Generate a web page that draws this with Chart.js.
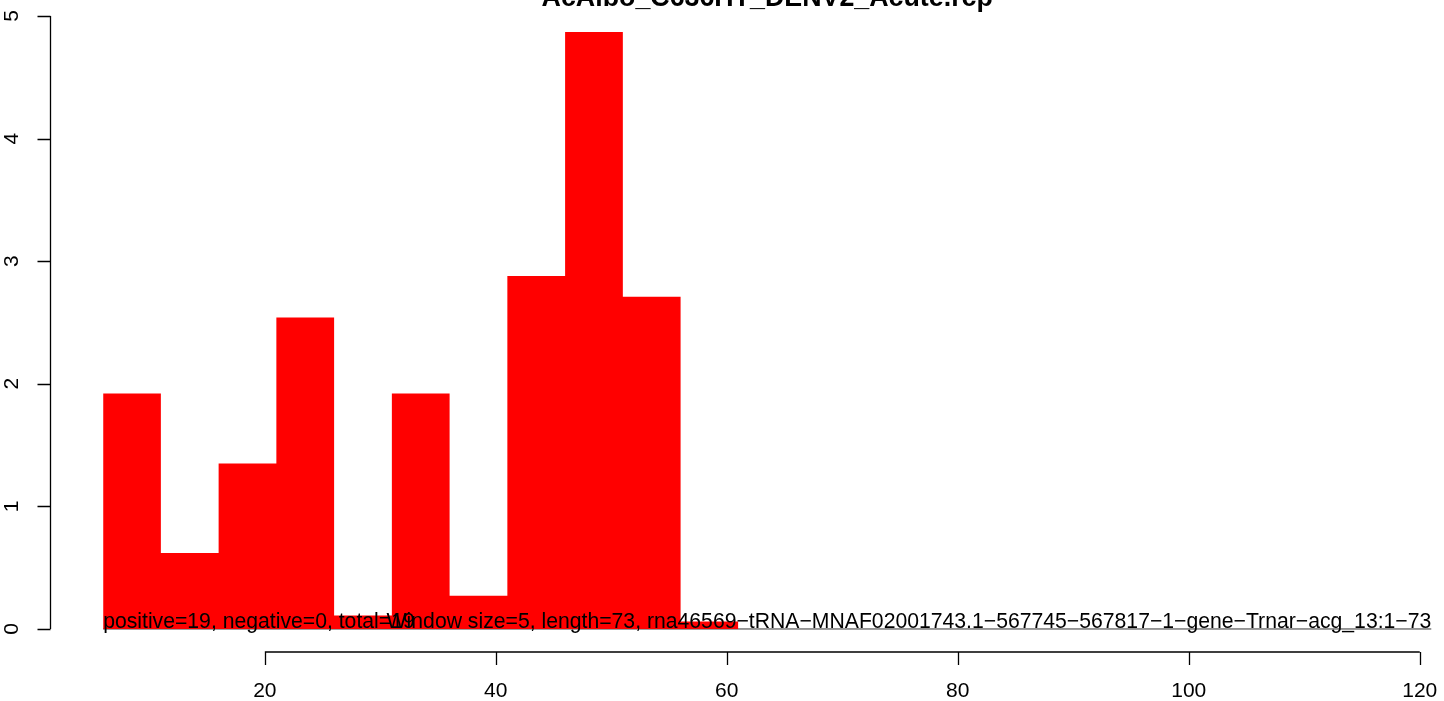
<!DOCTYPE html>
<html>
<head>
<meta charset="utf-8">
<script src="https://cdn.jsdelivr.net/npm/chart.js@4/dist/chart.umd.min.js"></script>
<style>
html,body{margin:0;padding:0;background:#fff;}
#c{display:block;}
</style>
</head>
<body>
<canvas id="c" width="1444" height="701"></canvas>
<script>
// ---- data ----
const chartTitle = "AcAlbo_C636HT_DENV2_Acute.rcp";
const binStarts = [6, 11, 16, 21, 26, 31, 36, 41, 46, 51, 56];
const binWidth = 5;
const binValues = [1.92, 0.62, 1.35, 2.54, 0.11, 1.92, 0.27, 2.88, 4.87, 2.71, 0.06];
const windowRange = [6, 121];
const xTickValues = [20, 40, 60, 80, 100, 120];
const yTickValues = [0, 1, 2, 3, 4, 5];
const noteLeft = "positive=19, negative=0, total=19";
const noteRight = "Window size=5, length=73, rna46569\u2212tRNA\u2212MNAF02001743.1\u2212567745\u2212567817\u22121\u2212gene\u2212Trnar\u2212acg_13:1\u221273";

// stepped histogram outline built from the bins
const histPoints = binStarts.map((s, i) => ({x: s, y: binValues[i]}));
histPoints.push({x: binStarts[binStarts.length - 1] + binWidth, y: binValues[binValues.length - 1]});

const FONT = '"Liberation Sans", Arial, sans-serif';

const rAxes = {
  id: 'rAxes',
  afterDraw(chart) {
    const ctx = chart.ctx;
    const xs = chart.scales.x, ys = chart.scales.y;
    const area = chart.chartArea;
    ctx.save();
    ctx.strokeStyle = '#000';
    ctx.fillStyle = '#000';
    ctx.lineWidth = 1.3;
    // x axis
    const xy = area.bottom - 1;
    ctx.beginPath();
    ctx.moveTo(xs.getPixelForValue(xTickValues[0]), xy);
    ctx.lineTo(xs.getPixelForValue(xTickValues[xTickValues.length - 1]), xy);
    xTickValues.forEach(v => {
      const px = Math.round(xs.getPixelForValue(v)) + 0.5;
      ctx.moveTo(px, xy);
      ctx.lineTo(px, xy + 13);
    });
    ctx.stroke();
    ctx.font = '21px ' + FONT;
    ctx.textAlign = 'center';
    ctx.textBaseline = 'alphabetic';
    xTickValues.forEach(v => {
      ctx.fillText(String(v), xs.getPixelForValue(v), 697);
    });
    // y axis
    const yx = area.left + 0.5;
    ctx.beginPath();
    ctx.moveTo(yx, ys.getPixelForValue(yTickValues[0]));
    ctx.lineTo(yx, ys.getPixelForValue(yTickValues[yTickValues.length - 1]));
    yTickValues.forEach(v => {
      const py = Math.round(ys.getPixelForValue(v)) + 0.5;
      ctx.moveTo(yx, py);
      ctx.lineTo(yx - 13, py);
    });
    ctx.stroke();
    yTickValues.forEach(v => {
      ctx.save();
      ctx.translate(18, ys.getPixelForValue(v));
      ctx.rotate(-Math.PI / 2);
      ctx.textAlign = 'center';
      ctx.textBaseline = 'alphabetic';
      ctx.fillText(String(v), 0, 0);
      ctx.restore();
    });
    // notes
    const y0 = ys.getPixelForValue(0) - 1;
    ctx.font = '21.2px ' + FONT;
    ctx.textAlign = 'left';
    ctx.fillText(noteLeft, xs.getPixelForValue(windowRange[0]), y0);
    ctx.textAlign = 'right';
    ctx.fillText(noteRight, xs.getPixelForValue(windowRange[1]), y0);
    // title
    ctx.font = 'bold 26.8px ' + FONT;
    ctx.textAlign = 'center';
    ctx.fillText(chartTitle, xs.getPixelForValue((windowRange[0] + windowRange[1]) / 2), 6);
    ctx.restore();
  }
};

new Chart(document.getElementById('c'), {
  type: 'line',
  data: {
    datasets: [
      {
        label: 'hist',
        data: histPoints,
        stepped: 'before',
        fill: 'origin',
        backgroundColor: '#FF0000',
        borderColor: 'rgba(0,0,0,0)',
        borderWidth: 0,
        pointRadius: 0,
        order: 1
      },
      {
        label: 'zero',
        data: windowRange.map(x => ({x: x, y: 0})),
        borderColor: '#333',
        borderWidth: 1,
        pointRadius: 0,
        fill: false,
        order: 2
      }
    ]
  },
  options: {
    responsive: false,
    devicePixelRatio: 1,
    animation: false,
    layout: {padding: {left: 50, right: 0, top: 8, bottom: 48}},
    plugins: {legend: {display: false}, tooltip: {enabled: false}, title: {display: false}},
    scales: {
      x: {type: 'linear', min: 1.4, max: 122.1, display: false},
      y: {type: 'linear', min: -0.196, max: 5.065, display: false}
    }
  },
  plugins: [rAxes]
});
</script>
</body>
</html>
